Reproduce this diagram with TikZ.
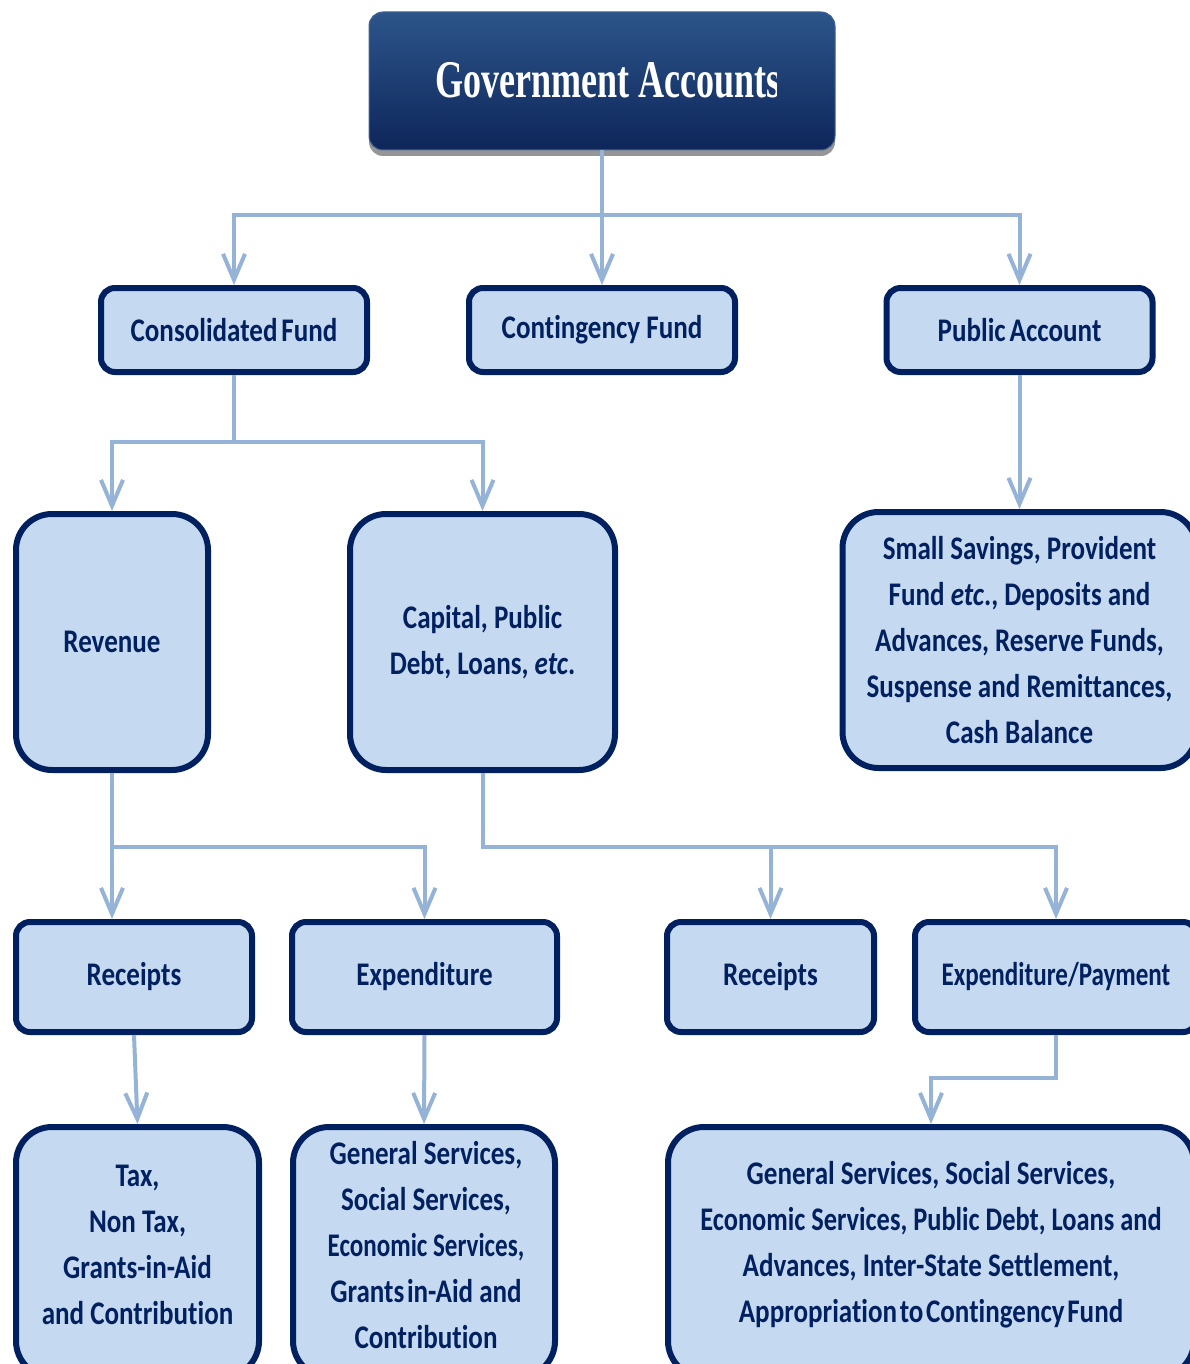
\documentclass[tikz,border=0pt]{standalone}
\usepackage{fontspec}
\newfontfamily\lblfont[FakeStretch=0.82,Ligatures=NoCommon]{Carlito}
\newfontfamily\ttlfont[FakeStretch=0.68]{Liberation Serif}
\usetikzlibrary{arrows.meta,shadows}
\definecolor{navy}{RGB}{0,32,96}
\definecolor{boxfill}{RGB}{197,217,241}
\definecolor{connc}{RGB}{149,179,215}
\definecolor{tTop}{RGB}{44,85,138}
\definecolor{tMid}{RGB}{35,75,128}
\definecolor{tBot}{RGB}{14,38,90}
\definecolor{tEdge}{RGB}{70,100,150}
\begin{document}
\begin{tikzpicture}[x=1pt,y=-1pt,
  box/.style={draw=navy, line width=6pt, fill=boxfill, rounded corners=14pt,
    text=navy, align=center, inner sep=0pt,
    font=\lblfont\bfseries\fontsize{33}{46}\selectfont},
  bigbox/.style={box, rounded corners=36pt},
  boxtext/.style={text=navy, align=center, inner sep=0pt,
    font=\lblfont\bfseries\fontsize{33}{46}\selectfont},
  connector/.style={draw=connc, line width=4pt,
    -{Straight Barb[length=26pt,width=22pt]}},
  titlebox/.style={rounded corners=14pt, top color=tTop, middle color=tMid,
    bottom color=tBot, draw=tEdge, line width=1pt,
    drop shadow={shadow xshift=0pt, shadow yshift=-6pt, opacity=0.55, fill=black!75}}
]
\fill[white] (0,0) rectangle (1190,1364);
\useasboundingbox (0,0) rectangle (1190,1364);

% title
\node[titlebox, minimum width=466pt, minimum height=138pt, inner sep=0pt] (title) at (602,81) {};
\begin{scope}
  \clip (369,12) rectangle (776,150);
  \node[anchor=base west, inner sep=0pt, text=white,
    font=\ttlfont\bfseries\fontsize{53}{60}\selectfont] (ttext) at (435,98) {Government Accounts};
\end{scope}

% row 2
\node[box, minimum width=266pt, minimum height=84pt] (cons) at (234,330) {Consolidated\hspace{0.12em}Fund};
\node[box, minimum width=266pt, minimum height=84pt] (cont) at (602,330) {Contingency Fund};
\node[box, minimum width=266pt, minimum height=84pt] (pub) at (1019.5,330) {Public\hspace{0.12em}Account};

% row 3
\node[bigbox, minimum width=192pt, minimum height=256pt] (rev) at (112,642) {Revenue};
\node[bigbox, minimum width=265pt, minimum height=256pt] (cap) at (482.5,642) {Capital, Public\\Debt, Loans, \textit{etc}.};
\node[bigbox, minimum width=354pt, minimum height=256pt] (pubd) at (1019.5,640)
  {Small Savings, Provident\\Fund \textit{etc}., Deposits and\\Advances, Reserve Funds,\\Suspense and Remittances,\\Cash Balance};

% row 4
\node[box, minimum width=236pt, minimum height=110pt] (rec1) at (134,977) {Receipts};
\node[box, minimum width=265pt, minimum height=110pt] (exp1) at (424.5,977) {Expenditure};
\node[box, minimum width=207pt, minimum height=110pt] (rec2) at (770.5,977) {Receipts};
\node[box, minimum width=282pt, minimum height=110pt] (exp2) at (1056,977) {\addfontfeature{FakeStretch=0.76}Expenditure/Payment};

% row 5
\node[bigbox, minimum width=243pt, minimum height=250pt] (tax) at (137.5,1252) {};
\node[bigbox, minimum width=262pt, minimum height=250pt] (gen) at (424,1252) {};
\node[bigbox, minimum width=526pt, minimum height=250pt] (big) at (931,1252) {};
\node[boxtext] (taxt) at (137.5,1245) {Tax,\\Non Tax,\\Grants-in-Aid\\and Contribution};
\node[boxtext] (gent) at (426,1245) {General Services,\\Social Services,\\{\addfontfeature{FakeStretch=0.76}Economic Services,}\\Grants\hspace{0.08em}in-Aid and\\Contribution};
\node[boxtext] (bigt) at (931,1245) {General Services, Social Services,\\{\addfontfeature{FakeStretch=0.8}Economic Services, Public Debt, Loans and}\\Advances, Inter-State Settlement,\\Appropriation\hspace{0.08em}to\hspace{0.08em}Contingency\hspace{0.08em}Fund};

% connectors
\coordinate (j1) at (602,215);
\draw[connector] (title.south) -- (j1) -| (cons.north);
\draw[connector] (title.south) -- (cont.north);
\draw[connector] (title.south) -- (j1) -| (pub.north);

\coordinate (j2) at (234,442);
\draw[connector] (cons.south) -- (j2) -| (rev.north);
\draw[connector] (cons.south) -- (j2) -| (cap.north);
\draw[connector] (pub.south) -- (pubd.north);

\coordinate (j3) at (112,847);
\draw[connector] (rev.south) -- (rec1.north -| rev.south);
\draw[connector] (rev.south) -- (j3) -| (exp1.north);

\coordinate (j4) at (482.5,847);
\draw[connector] (cap.south) -- (j4) -| (rec2.north);
\draw[connector] (cap.south) -- (j4) -| (exp2.north);

\draw[connector] (rec1.south) -- (tax.north);
\draw[connector] (exp1.south) -- (gen.north);
\coordinate (j5) at (1056,1078);
\draw[connector] (exp2.south) -- (j5) -| (big.north);
\end{tikzpicture}
\end{document}
